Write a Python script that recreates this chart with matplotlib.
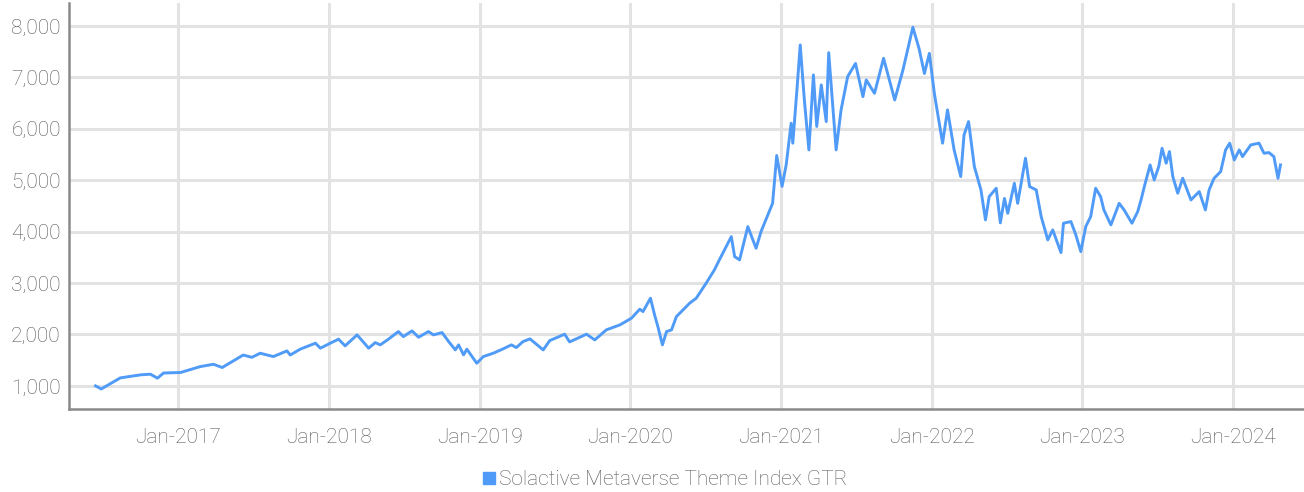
import numpy as np
import pandas as pd
import matplotlib
matplotlib.use('Agg')
import matplotlib.pyplot as plt
import matplotlib.dates as mdates
from matplotlib.lines import Line2D

plt.rcParams['font.family'] = ['Roboto', 'DejaVu Sans']
plt.rcParams['font.weight'] = 'light'

# values
dates = [
    '2016-06-14', '2016-06-28', '2016-08-13', '2016-10-01', '2016-10-25', '2016-11-11', '2016-11-26',
    '2017-01-06', '2017-02-23', '2017-03-27', '2017-04-17', '2017-06-07', '2017-06-28', '2017-07-18',
    '2017-08-19', '2017-09-21', '2017-09-29', '2017-10-23', '2017-11-29', '2017-12-11',
    '2018-01-04', '2018-01-24', '2018-02-09', '2018-03-10', '2018-04-07', '2018-04-23', '2018-05-05',
    '2018-05-25', '2018-06-18', '2018-06-30', '2018-07-21', '2018-08-06', '2018-08-30', '2018-09-11',
    '2018-10-02', '2018-10-18', '2018-11-03', '2018-11-11', '2018-11-23', '2018-12-01', '2018-12-25',
    '2019-01-10', '2019-02-03', '2019-02-27', '2019-03-19', '2019-03-31', '2019-04-16', '2019-05-03',
    '2019-06-04', '2019-06-20', '2019-07-26', '2019-08-07', '2019-09-17', '2019-10-07', '2019-11-04',
    '2019-12-07', '2020-01-04', '2020-01-24', '2020-02-01', '2020-02-19', '2020-02-29', '2020-03-08',
    '2020-03-19', '2020-03-29', '2020-04-10', '2020-04-22', '2020-05-24', '2020-06-09', '2020-07-03',
    '2020-07-23', '2020-08-04', '2020-09-02', '2020-09-10', '2020-09-22', '2020-10-12', '2020-11-01',
    '2020-11-13', '2020-12-11', '2020-12-21', '2021-01-03', '2021-01-13', '2021-01-25', '2021-01-29',
    '2021-02-08', '2021-02-16', '2021-02-26', '2021-03-09', '2021-03-20', '2021-03-28', '2021-04-08',
    '2021-04-20', '2021-04-26', '2021-05-14', '2021-05-26', '2021-06-11', '2021-06-30', '2021-07-18',
    '2021-07-26', '2021-08-15', '2021-09-06', '2021-10-03', '2021-10-23', '2021-11-16', '2021-12-01',
    '2021-12-14', '2021-12-26', '2022-01-07', '2022-01-27', '2022-02-08', '2022-02-24', '2022-03-12',
    '2022-03-20', '2022-03-31', '2022-04-14', '2022-04-30', '2022-05-11', '2022-05-20', '2022-06-06',
    '2022-06-16', '2022-06-26', '2022-07-04', '2022-07-20', '2022-07-28', '2022-08-16', '2022-08-26',
    '2022-09-11', '2022-09-23', '2022-10-09', '2022-10-21', '2022-11-10', '2022-11-16', '2022-12-04',
    '2022-12-16', '2022-12-28', '2023-01-09', '2023-01-21', '2023-02-02', '2023-02-14', '2023-02-22',
    '2023-03-11', '2023-03-31', '2023-04-12', '2023-05-01', '2023-05-15', '2023-05-23', '2023-05-31',
    '2023-06-14', '2023-06-24', '2023-07-05', '2023-07-13', '2023-07-23', '2023-07-31', '2023-08-08',
    '2023-08-20', '2023-09-01', '2023-09-21', '2023-10-11', '2023-10-26', '2023-11-04', '2023-11-16',
    '2023-12-02', '2023-12-14', '2023-12-24', '2024-01-04', '2024-01-16', '2024-01-24', '2024-02-13',
    '2024-03-04', '2024-03-16', '2024-03-28', '2024-04-09', '2024-04-19', '2024-04-25',
]
values = [
    1000, 940, 1155, 1214, 1227, 1150, 1250,
    1260, 1375, 1420, 1357, 1600, 1555, 1635,
    1570, 1680, 1600, 1713, 1830, 1733,
    1830, 1908, 1778, 1992, 1733, 1842, 1797,
    1908, 2056, 1958, 2069, 1946, 2056, 1992,
    2036, 1861, 1700, 1797, 1603, 1713, 1441,
    1570, 1635, 1720, 1797, 1745, 1861, 1914,
    1700, 1881, 2005, 1855, 2005, 1894, 2089,
    2186, 2316, 2491, 2445, 2705, 2380, 2153,
    1797, 2056, 2089, 2348, 2608, 2705, 2997,
    3256, 3450, 3903, 3514, 3450, 4097, 3677,
    4000, 4550, 5480, 4880, 5300, 6108, 5720,
    6755, 7630, 6561, 5589, 7047, 6045, 6853,
    6140, 7480, 5589, 6367, 7016, 7270, 6625,
    6950, 6690, 7370, 6561, 7144, 7975, 7560,
    7075, 7467, 6690, 5720, 6367, 5589, 5071,
    5880, 6140, 5266, 4811, 4228, 4681, 4843,
    4170, 4645, 4356, 4940, 4550, 5427, 4875,
    4811, 4293, 3839, 4033, 3592, 4163, 4196,
    3936, 3611, 4097, 4293, 4843, 4681, 4422,
    4130, 4550, 4422, 4163, 4390, 4616, 4875,
    5297, 5005, 5266, 5620, 5330, 5556, 5071,
    4747, 5037, 4616, 4778, 4422, 4811, 5037,
    5167, 5589, 5720, 5394, 5589, 5459, 5686,
    5720, 5524, 5537, 5459, 5037, 5297,
]
series_name = 'Solactive Metaverse Theme Index GTR'
yticks = [1000, 2000, 3000, 4000, 5000, 6000, 7000, 8000]

x = pd.to_datetime(dates)
line_color = '#4f9bf7'
grid_color = '#e3e3e3'
text_color = '#585858'

fig = plt.figure(figsize=(13.04, 4.92), dpi=100)
ax = fig.add_axes([0.053, 0.169, 0.947, 0.825])

ax.plot(x, values, color=line_color, lw=2.1, solid_joinstyle='round')

ax.set_xlim(pd.Timestamp('2016-04-11'), pd.Timestamp('2024-06-21'))
ax.set_ylim(553, 8447)
ax.set_yticks(yticks)
ax.yaxis.set_major_formatter(matplotlib.ticker.FuncFormatter(lambda v, p: f'{int(v):,}'))
ax.xaxis.set_major_locator(mdates.YearLocator(1, month=1, day=1))
ax.xaxis.set_major_formatter(mdates.DateFormatter('%b-%Y'))

ax.grid(True, color=grid_color, lw=2.2)
ax.set_axisbelow(True)
for s in ['top', 'right']:
    ax.spines[s].set_visible(False)
for s in ['left', 'bottom']:
    ax.spines[s].set_color('#8a8a8a')
    ax.spines[s].set_linewidth(1.8)
ax.tick_params(axis='both', length=0, labelsize=15, labelcolor=text_color)
ax.tick_params(axis='y', pad=6)
ax.tick_params(axis='x', pad=14)

handle = Line2D([], [], ls='none', marker='s', markersize=8, color=line_color)
fig.legend([handle], [series_name], loc='center', bbox_to_anchor=(0.509, 0.025),
           frameon=False, fontsize=15, labelcolor=text_color, handletextpad=0.1,
           handlelength=0.8)

fig.savefig('out.png', dpi=100)
